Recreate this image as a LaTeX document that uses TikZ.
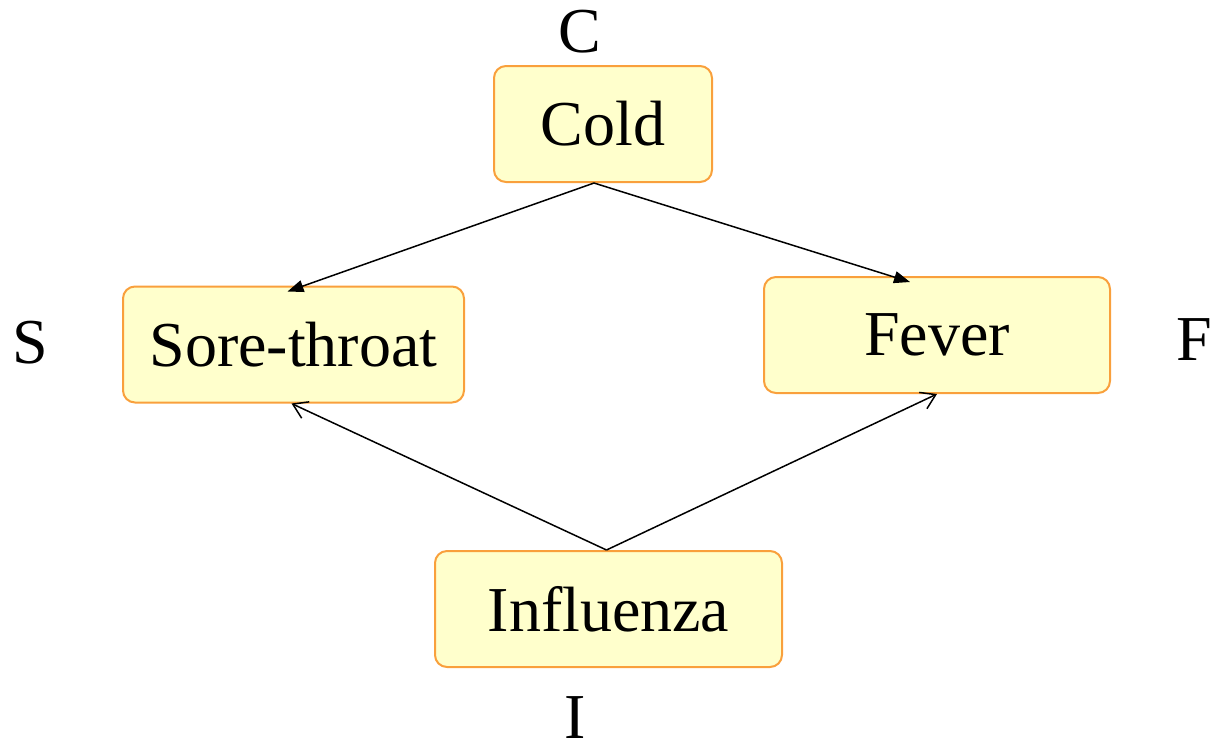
\documentclass[tikz,border=0pt]{standalone}
\usepackage{fontspec}
\setmainfont{Liberation Serif}
\usetikzlibrary{arrows.meta}
\definecolor{boxfill}{HTML}{FFFFCC}
\definecolor{boxline}{HTML}{F9A03C}
\tikzset{
  var/.style={draw=boxline,fill=boxfill,line width=1pt,rounded corners=6pt,
    minimum height=58pt,font=\fontsize{32}{38}\selectfont},
  lbl/.style={font=\fontsize{32}{38}\selectfont},
  cause/.style={-{Triangle[length=8pt,width=6pt]},line width=0.75pt},
  effect/.style={-{Straight Barb[length=7pt,width=9pt]},line width=0.75pt}
}
\begin{document}
\begin{tikzpicture}[x=0.5pt,y=-0.5pt]
\useasboundingbox (0,0) rectangle (1210,741);
\node[var,minimum width=109pt] (cold) at (603,124) {Cold};
\node[var,minimum width=170.5pt] (sore) at (293.5,344.5) {Sore-throat};
\node[var,minimum width=173pt] (fever) at (937,335) {Fever};
\node[var,minimum width=173.5pt] (flu) at (608.5,609) {Influenza};
\node[lbl] (c) at (580,32) {C};
\node[lbl] (s) at (30,343) {S};
\node[lbl] (f) at (1194,340) {F};
\node[lbl] (i) at (575,718) {I};
\draw[cause] ([xshift=-4.5pt]cold.south) -- ([xshift=-3pt,yshift=-3pt]sore.north);
\draw[cause] ([xshift=-4.5pt]cold.south) -- ([xshift=-13.5pt,yshift=-3pt]fever.north);
\draw[effect] ([xshift=-1pt]flu.north) -- ([xshift=-1pt]sore.south);
\draw[effect] ([xshift=-1pt]flu.north) -- (fever.south);
\end{tikzpicture}
\end{document}
